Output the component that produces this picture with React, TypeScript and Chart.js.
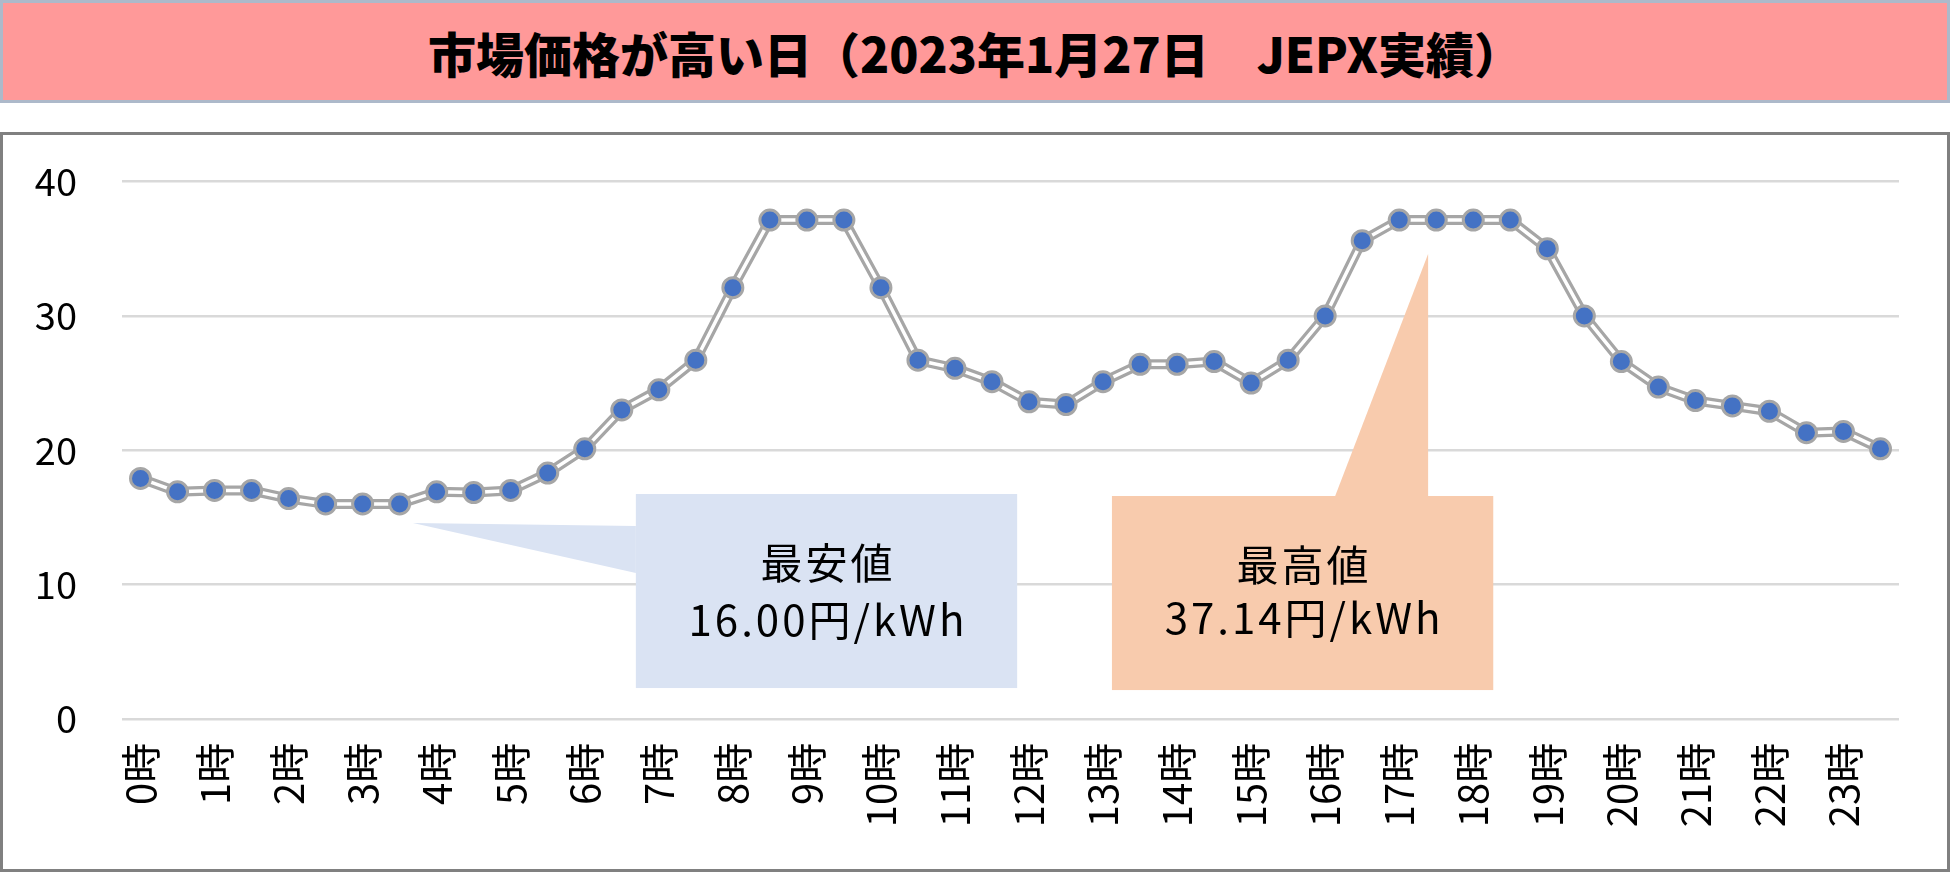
import React, { useEffect, useRef } from "react";
import { Chart, registerables } from "chart.js";

Chart.register(...registerables);

// 30分ごとのスロット（ラベルは1時間おき）
const xLabels = [
  "0時", "", "1時", "", "2時", "", "3時", "", "4時", "", "5時", "",
  "6時", "", "7時", "", "8時", "", "9時", "", "10時", "", "11時", "",
  "12時", "", "13時", "", "14時", "", "15時", "", "16時", "", "17時", "",
  "18時", "", "19時", "", "20時", "", "21時", "", "22時", "", "23時", "",
];

// JEPX スポット価格 (円/kWh)
const prices = [
  17.9, 16.9, 17.0, 17.0, 16.4, 16.0, 16.0, 16.0, 16.9, 16.85, 17.0, 18.3,
  20.1, 23.0, 24.5, 26.7, 32.1, 37.14, 37.14, 37.14, 32.1, 26.7, 26.1, 25.1,
  23.6, 23.4, 25.1, 26.4, 26.4, 26.6, 25.0, 26.7, 30.0, 35.6, 37.14, 37.14,
  37.14, 37.14, 35.0, 30.0, 26.6, 24.7, 23.7, 23.3, 22.9, 21.3, 21.4, 20.1,
];

const yMin = 0;
const yMax = 40;
const yStep = 10;

const titleText = "市場価格が高い日（2023年1月27日　JEPX実績）";
const minLabel = "最安値";
const maxLabel = "最高値";
const unit = "円/kWh";

const FONT = "'Noto Sans CJK JP', 'Noto Sans', sans-serif";

// callout placement in data units (x = slot index, y = price)
const callouts = [
  {
    fill: "#DAE3F3",
    box: [13.38, 23.68, 2.29, 16.74],
    pointer: [[7.36, 14.58], [13.38, 14.36], [13.38, 10.85]],
    text: [18.53, 11.6, 7.36],
    lines: [minLabel, Math.min(...prices).toFixed(2) + unit],
  },
  {
    fill: "#F8CBAD",
    box: [26.24, 36.54, 2.14, 16.59],
    pointer: [[32.27, 16.59], [34.78, 34.6], [34.78, 16.59]],
    text: [31.39, 11.45, 7.5],
    lines: [maxLabel, Math.max(...prices).toFixed(2) + unit],
  },
];

const calloutPlugin = {
  id: "callouts",
  beforeDatasetsDraw(chart: any) {
    const { ctx } = chart;
    const xs = chart.scales.x;
    const ys = chart.scales.y;
    const px = (i: number) => xs.getPixelForValue(i);
    const py = (v: number) => ys.getPixelForValue(v);
    callouts.forEach((c) => {
      ctx.save();
      ctx.fillStyle = c.fill;
      const [x0, x1, y0, y1] = c.box;
      ctx.fillRect(px(x0), py(y1), px(x1) - px(x0), py(y0) - py(y1));
      ctx.beginPath();
      c.pointer.forEach(([i, v], k) => {
        if (k === 0) ctx.moveTo(px(i), py(v));
        else ctx.lineTo(px(i), py(v));
      });
      ctx.closePath();
      ctx.fill();
      ctx.fillStyle = "#000";
      ctx.font = `42px ${FONT}`;
      ctx.letterSpacing = "3px";
      ctx.textAlign = "center";
      ctx.textBaseline = "middle";
      ctx.fillText(c.lines[0], px(c.text[0]) + 1.5, py(c.text[1]));
      ctx.fillText(c.lines[1], px(c.text[0]) + 1.5, py(c.text[2]));
      ctx.restore();
    });
  },
};

const CANVAS_W = 1944;
const CANVAS_H = 734;

export default function App() {
  const canvasRef = useRef<HTMLCanvasElement | null>(null);

  useEffect(() => {
    document.body.style.margin = "0";
    if (!canvasRef.current) return;

    const chart = new Chart(canvasRef.current, {
      type: "line",
      data: {
        labels: xLabels,
        datasets: [
          // markers on top
          {
            data: prices,
            showLine: false,
            pointRadius: 10,
            pointBorderWidth: 3,
            pointBackgroundColor: "#4472C4",
            pointBorderColor: "#A6A6A6",
            order: 0,
          },
          // white core of the double line
          {
            data: prices,
            borderColor: "#FFFFFF",
            borderWidth: 3.5,
            pointRadius: 0,
            borderJoinStyle: "round",
            tension: 0,
            order: 1,
          },
          // gray outline
          {
            data: prices,
            borderColor: "#A6A6A6",
            borderWidth: 10,
            pointRadius: 0,
            borderJoinStyle: "round",
            tension: 0,
            order: 2,
          },
        ],
      } as any,
      options: {
        responsive: false,
        animation: false,
        devicePixelRatio: 1,
        layout: { padding: { top: 46.6, left: 0, right: 48, bottom: 0 } },
        plugins: {
          legend: { display: false },
          tooltip: { enabled: false },
        },
        scales: {
          x: {
            offset: true,
            grid: { display: false, drawTicks: false },
            border: { display: false },
            ticks: {
              autoSkip: false,
              minRotation: 90,
              maxRotation: 90,
              padding: 24,
              color: "#000",
              font: { family: FONT, size: 40 },
              callback: (_v: any, i: number) => xLabels[i],
            },
            afterFit: (s: any) => {
              s.height = CANVAS_H - 583.8;
              s.paddingLeft = 0;
              s.paddingRight = 0;
            },
          },
          y: {
            min: yMin,
            max: yMax,
            grid: { color: "#D9D9D9", lineWidth: 2.5, drawTicks: false },
            border: { display: false },
            ticks: {
              stepSize: yStep,
              padding: 45,
              color: "#000",
              font: { family: FONT, size: 38 },
            },
            afterFit: (s: any) => {
              s.width = 119;
              // tick padding would otherwise push the plot area down
              s.paddingTop = 0;
              s.paddingBottom = 0;
            },
          },
        },
      } as any,
      plugins: [calloutPlugin],
    });

    return () => chart.destroy();
  }, []);

  return (
    <div style={{ position: "relative", width: 1950, height: 872, background: "#fff", fontFamily: FONT }}>
      <div
        style={{
          position: "absolute",
          left: 0,
          top: 0,
          width: 1950,
          height: 103,
          boxSizing: "border-box",
          background: "#FF9999",
          border: "3px solid #ADB9CA",
          display: "flex",
          alignItems: "center",
          justifyContent: "center",
          fontSize: 48,
          fontWeight: 900,
          color: "#000",
        }}
      >
        {titleText}
      </div>
      <div
        style={{
          position: "absolute",
          left: 0,
          top: 132,
          width: 1950,
          height: 740,
          boxSizing: "border-box",
          border: "3px solid #808080",
        }}
      >
        <canvas ref={canvasRef} width={CANVAS_W} height={CANVAS_H} style={{ display: "block" }} />
      </div>
    </div>
  );
}
